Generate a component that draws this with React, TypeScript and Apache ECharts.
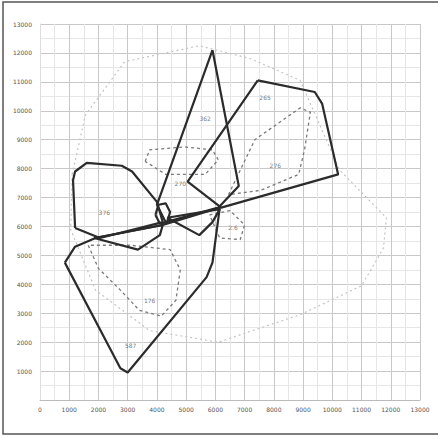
import React, { useEffect, useRef } from "react";
import * as echarts from "echarts";

// Axis ranges (data units)
const xMax = 13000;
const yMax = 13000;
const tickStep = 1000;

// Solid outlines
const leftHex: number[][] = [[1200,5950],[1130,7600],[1200,7900],[1600,8200],[2800,8100],[3150,7900],[4000,6850],[4200,6150],[2050,5600]];
const centerLoop: number[][] = [[3950,6400],[4050,6750],[4300,6800],[4450,6500],[4350,6150],[4100,6100]];
const spike: number[][] = [[5900,12100],[6800,7400],[6100,6650],[4300,6150],[4000,6750]];
const rightQuad: number[][] = [[7450,11050],[9400,10650],[9650,10250],[10200,7800],[6200,6650],[5050,7550]];
const lowerBig: number[][] = [[850,4750],[1200,5300],[1900,5600],[4200,6050],[6150,6650],[5900,4750],[5700,4250],[3000,950],[2750,1100]];
const smallLeft: number[][] = [[1850,5600],[3350,5200],[4100,5700],[4200,6050]];
const smallRight: number[][] = [[4350,6300],[5450,5700],[5900,6150],[6150,6600]];

// Dashed outlines
const dashLower: number[][] = [[1650,5350],[2000,4550],[2750,3800],[3400,3100],[4150,2900],[4650,3450],[4800,4500],[4450,5200],[3100,5350]];
const dashUpper: number[][] = [[3600,8250],[3750,8650],[4950,8750],[5900,8650],[6100,8300],[5650,7800],[4300,7800]];
const dashRight: number[][] = [[6450,7100],[7350,9000],[8900,10100],[9250,9950],[9050,8650],[8850,7800],[7550,7250]];
const dashSmall: number[][] = [[5800,6400],[6500,6550],[7000,6050],[6850,5550],[6150,5600]];

// Dotted outer outline
const dottedOuter: number[][] = [[1100,7800],[1550,9850],[2900,11700],[5450,12250],[7200,11800],[8900,11050],[10250,7950],[11850,6300],[11750,5250],[11000,3950],[8900,2950],[6100,2000],[3750,2400],[1900,3800],[1050,5900]];

// Labels inside outlines
const labelNames = ["376", "362", "265", "276", "176", "587", "2.6", "270"];
const labelX = [2200, 5650, 7700, 8050, 3750, 3100, 6600, 4800];
const labelY = [6500, 9750, 10450, 8100, 3450, 1900, 5950, 7500];

const close = (pts: number[][]) => [...pts, pts[0]];

export default function App() {
  const ref = useRef<HTMLDivElement>(null);
  useEffect(() => {
    if (!ref.current) return;
    const chart = echarts.init(ref.current, undefined, { renderer: "svg" });
    const solid = (d: number[][]) => ({
      type: "line", data: close(d), showSymbol: false, silent: true,
      lineStyle: { color: "#2b2b2b", width: 2.2 }, z: 5,
    });
    const dashed = (d: number[][]) => ({
      type: "line", data: close(d), showSymbol: false, silent: true,
      lineStyle: { color: "#7a7a7a", width: 1.3, type: [3, 3] }, z: 4,
    });
    const dotted = (d: number[][]) => ({
      type: "line", data: close(d), showSymbol: false, silent: true,
      lineStyle: { color: "#c4c4c4", width: 1.2, type: [2, 3] }, z: 3,
    });
    const labelStyle = { fontSize: 6, color: "#555", fontFamily: "DejaVu Sans" };
    const axisCommon = {
      type: "value", min: 0, interval: tickStep,
      axisTick: { show: false },
      splitLine: { show: true, lineStyle: { color: "#c8c8c8", width: 1 } },
      minorTick: { show: false, splitNumber: 2 },
      minorSplitLine: { show: true, lineStyle: { color: "#e6e6e6", width: 1 } },
    };
    chart.setOption({
      animation: false,
      backgroundColor: "#fff",
      grid: { left: 40, right: 18, top: 24, bottom: 38 },
      xAxis: {
        ...axisCommon, max: xMax,
        axisLine: { show: true, lineStyle: { color: "#bbb" } },
        axisLabel: { ...labelStyle, margin: 6, formatter: (v: number) => String(v) },
      },
      yAxis: {
        ...axisCommon, max: yMax,
        axisLine: { show: true, lineStyle: { color: "#ddd" } },
        axisLabel: { ...labelStyle, margin: 8, formatter: (v: number) => (v === 0 ? "" : String(v)) },
      },
      graphic: [
        { type: "rect", shape: { x: 3, y: 2, width: 445, height: 432 }, style: { fill: "none", stroke: "#555", lineWidth: 1.5 }, silent: true },
      ],
      series: [
        dotted(dottedOuter),
        dashed(dashLower), dashed(dashUpper), dashed(dashRight), dashed(dashSmall),
        solid(leftHex), solid(centerLoop), solid(spike), solid(rightQuad),
        solid(lowerBig), solid(smallLeft), solid(smallRight),
        {
          type: "scatter", symbolSize: 0, silent: true, z: 6,
          data: labelNames.map((n, i) => ({ name: n, value: [labelX[i], labelY[i]] })),
          label: { show: true, position: "inside", formatter: "{b}", ...labelStyle },
        },
      ],
    });
    return () => chart.dispose();
  }, []);
  return <div ref={ref} style={{ position: "fixed", left: 0, top: 0, width: 438, height: 438 }} />;
}
